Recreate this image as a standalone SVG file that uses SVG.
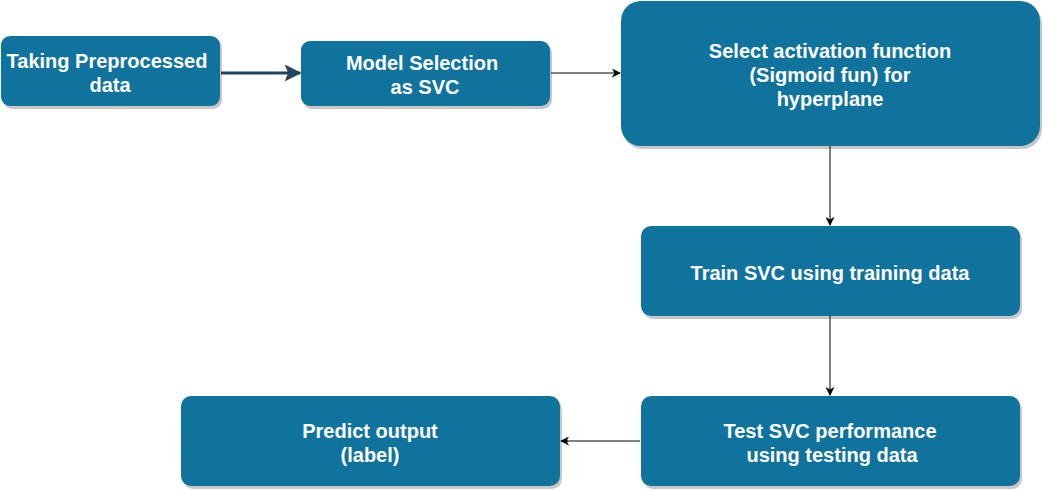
<svg xmlns="http://www.w3.org/2000/svg" width="1043" height="490" viewBox="0 0 1043 490">
<style>
.box{fill:#10739E;}
.sh{fill:#000;opacity:0.22;}
.t{font-family:"Liberation Sans",Arial,sans-serif;font-weight:bold;font-size:20px;fill:#fff;text-anchor:middle;}
</style>
<defs>
<marker id="ah" viewBox="0 0 10 10" refX="9" refY="5" markerWidth="9" markerHeight="9" markerUnits="userSpaceOnUse" orient="auto">
<path d="M0,0 L10,5 L0,10 L3,5 Z" fill="#000"/>
</marker>
<marker id="ahb" viewBox="0 0 10 10" refX="9" refY="5" markerWidth="17" markerHeight="17" markerUnits="userSpaceOnUse" orient="auto">
<path d="M0,0 L10,5 L0,10 L2,5 Z" fill="#23445D"/>
</marker>
</defs>
<rect width="1043" height="490" fill="#fff"/>
<g id="connectors">
<line x1="221" y1="73" x2="300" y2="73" stroke="#23445D" stroke-width="3" marker-end="url(#ahb)"/>
<line x1="551" y1="73" x2="620" y2="73" stroke="#000" stroke-width="1" marker-end="url(#ah)"/>
<line x1="830" y1="146" x2="830" y2="225" stroke="#000" stroke-width="1" marker-end="url(#ah)"/>
<line x1="830" y1="316" x2="830" y2="395" stroke="#000" stroke-width="1" marker-end="url(#ah)"/>
<line x1="640" y1="441" x2="566" y2="441" stroke="#808080" stroke-width="2"/>
<line x1="568" y1="441" x2="561" y2="441" stroke="#000" stroke-width="1" marker-end="url(#ah)"/>
</g>
<g id="node1">
<rect class="sh" x="3" y="39" width="219" height="70" rx="9"/>
<rect class="box" x="1" y="36" width="219" height="70" rx="9"/>
<text class="t" x="107" y="68">Taking Preprocessed</text>
<text class="t" x="110" y="92">data</text>
</g>
<g id="node2">
<rect class="sh" x="303" y="44" width="249" height="65" rx="9"/>
<rect class="box" x="301" y="41" width="249" height="65" rx="9"/>
<text class="t" x="422" y="70">Model Selection</text>
<text class="t" x="425" y="94">as SVC</text>
</g>
<g id="node3">
<rect class="sh" x="623" y="4" width="419" height="145" rx="20"/>
<rect class="box" x="621" y="1" width="419" height="145" rx="20"/>
<text class="t" x="830" y="58">Select activation function</text>
<text class="t" x="830" y="82">(Sigmoid fun) for</text>
<text class="t" x="830" y="106">hyperplane</text>
</g>
<g id="node4">
<rect class="sh" x="643" y="229" width="379" height="90" rx="10"/>
<rect class="box" x="641" y="226" width="379" height="90" rx="10"/>
<text class="t" x="830" y="280">Train SVC using training data</text>
</g>
<g id="node5">
<rect class="sh" x="643" y="399" width="379" height="90" rx="10"/>
<rect class="box" x="641" y="396" width="379" height="90" rx="10"/>
<text class="t" x="830" y="438">Test SVC performance</text>
<text class="t" x="832" y="462">using testing data</text>
</g>
<g id="node6">
<rect class="sh" x="183" y="399" width="379" height="90" rx="10"/>
<rect class="box" x="181" y="396" width="379" height="90" rx="10"/>
<text class="t" x="370" y="438">Predict output</text>
<text class="t" x="370" y="462">(label)</text>
</g>
</svg>
